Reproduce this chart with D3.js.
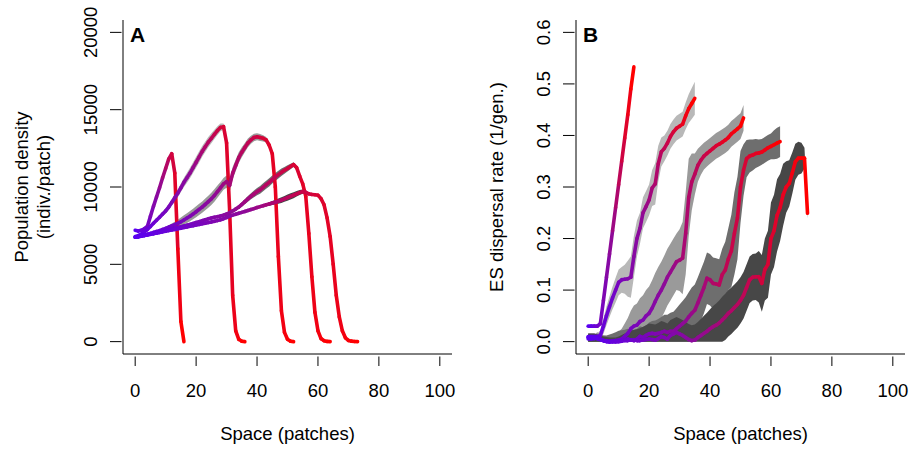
<!DOCTYPE html>
<html>
<head>
<meta charset="utf-8">
<script src="https://cdn.jsdelivr.net/npm/d3@7"></script>
<style>
  body { margin: 0; background: #fff; }
  svg { display: block; font-family: "Liberation Sans", Arial, Helvetica, sans-serif; }
</style>
</head>
<body>
<div id="chart"></div>
<script>
// ---- data: one value per patch, starting at patch 0 ----
// panel A: population density (indiv./patch)
const densA1 = [7200, 7150, 7200, 7300, 7450, 8100, 8750, 9350, 9950, 10600, 11200, 11800, 12150, 10900, 6000, 1300, 0];
const densA2 = [6800, 6850, 6950, 7100, 7250, 7450, 7650, 7850, 8050, 8250, 8450, 8700, 9000, 9300, 9600, 9950, 10300, 10600, 10900, 11250, 11600, 11950, 12300, 12600, 12900, 13150, 13400, 13650, 13850, 13900, 12850, 8500, 3000, 700, 150, 30, 0];
const densA3 = [6750, 6800, 6850, 6900, 6950, 7000, 7060, 7120, 7180, 7250, 7320, 7400, 7480, 7560, 7650, 7750, 7870, 7990, 8110, 8250, 8400, 8550, 8700, 8880, 9050, 9230, 9450, 9700, 9950, 10200, 10350, 10100, 10900, 11400, 11900, 12250, 12550, 12850, 13050, 13200, 13250, 13200, 13150, 13050, 12700, 12150, 10000, 5500, 2000, 600, 150, 30, 0];
const densA4 = [6750, 6790, 6830, 6870, 6910, 6950, 6990, 7030, 7080, 7130, 7180, 7230, 7280, 7330, 7380, 7430, 7480, 7530, 7580, 7640, 7700, 7760, 7820, 7880, 7940, 7990, 8040, 8080, 8120, 8180, 8250, 8350, 8450, 8570, 8700, 8870, 9050, 9230, 9400, 9550, 9700, 9820, 9980, 10150, 10300, 10480, 10650, 10800, 10950, 11080, 11200, 11330, 11450, 11250, 10700, 10200, 9400, 7000, 4200, 1900, 700, 200, 60, 15, 0];
const densA5 = [6750, 6780, 6820, 6860, 6900, 6940, 6980, 7020, 7060, 7100, 7140, 7180, 7220, 7260, 7300, 7340, 7380, 7420, 7460, 7500, 7540, 7580, 7620, 7660, 7700, 7740, 7780, 7830, 7880, 7950, 8030, 8110, 8180, 8240, 8300, 8360, 8420, 8480, 8540, 8600, 8670, 8730, 8790, 8850, 8900, 8960, 9020, 9080, 9150, 9230, 9310, 9390, 9470, 9560, 9640, 9700, 9660, 9560, 9520, 9500, 9470, 9250, 8850, 8000, 6800, 5000, 3000, 1600, 700, 250, 80, 30, 10, 0];
// half-width of the grey envelope around each density curve
const sprA2 = [0, 0, 0, 0, 0, 50, 80, 100, 120, 150, 180, 200, 220, 240, 260, 280, 300, 320, 340, 350, 360, 360, 350, 340, 330, 320, 300, 280, 250, 200, 150, 100, 50, 0, 0, 0, 0];
const sprA3 = [0, 0, 0, 0, 0, 0, 0, 0, 50, 80, 100, 130, 160, 200, 240, 280, 300, 320, 330, 340, 350, 360, 370, 380, 390, 400, 400, 390, 380, 380, 400, 420, 400, 380, 350, 320, 300, 280, 260, 240, 230, 220, 200, 180, 150, 100, 60, 30, 0, 0, 0, 0, 0];
const sprA4 = [0, 0, 0, 0, 0, 0, 0, 0, 0, 0, 0, 0, 0, 0, 0, 0, 0, 0, 0, 0, 0, 0, 0, 0, 0, 0, 0, 0, 0, 0, 40, 60, 80, 100, 120, 140, 160, 180, 200, 220, 240, 250, 260, 260, 260, 260, 260, 250, 240, 220, 200, 180, 150, 120, 90, 60, 30, 0, 0, 0, 0, 0, 0, 0, 0];
const sprA5 = [0, 0, 0, 0, 0, 0, 0, 0, 0, 0, 0, 0, 0, 0, 0, 0, 0, 0, 0, 0, 0, 0, 0, 0, 0, 0, 0, 0, 0, 0, 0, 0, 0, 0, 0, 0, 0, 0, 0, 0, 30, 50, 70, 90, 110, 130, 150, 170, 180, 190, 200, 200, 190, 180, 160, 140, 120, 90, 60, 30, 0, 0, 0, 0, 0, 0, 0, 0, 0, 0, 0, 0, 0, 0];

// panel B: ES dispersal rate (1/gen.)
const dispB1 = [0.03, 0.03, 0.03, 0.03, 0.035, 0.08, 0.125, 0.17, 0.215, 0.26, 0.305, 0.35, 0.395, 0.44, 0.49, 0.533];
const dispB2 = [0.010, 0.010, 0.010, 0.010, 0.012, 0.030, 0.050, 0.068, 0.085, 0.100, 0.115, 0.120, 0.121, 0.122, 0.125, 0.165, 0.200, 0.220, 0.250, 0.262, 0.275, 0.298, 0.306, 0.345, 0.368, 0.375, 0.385, 0.398, 0.407, 0.414, 0.418, 0.422, 0.438, 0.452, 0.462, 0.472];
const dispB3 = [0.005, 0.005, 0.006, 0.008, 0.005, 0.002, 0.001, 0.000, 0.001, 0.002, 0.003, 0.005, 0.010, 0.016, 0.025, 0.030, 0.032, 0.039, 0.042, 0.050, 0.055, 0.065, 0.078, 0.090, 0.100, 0.112, 0.125, 0.135, 0.145, 0.155, 0.158, 0.162, 0.210, 0.280, 0.310, 0.325, 0.342, 0.352, 0.360, 0.365, 0.370, 0.375, 0.380, 0.383, 0.387, 0.391, 0.396, 0.403, 0.408, 0.413, 0.418, 0.434];
const dispB4 = [0.008, 0.008, 0.008, 0.006, 0.004, 0.002, 0.000, 0.000, 0.000, 0.000, 0.001, 0.002, 0.003, 0.005, 0.003, 0.002, 0.005, 0.010, 0.008, 0.012, 0.015, 0.016, 0.015, 0.016, 0.018, 0.020, 0.018, 0.020, 0.020, 0.025, 0.030, 0.035, 0.040, 0.048, 0.055, 0.061, 0.075, 0.090, 0.105, 0.123, 0.120, 0.113, 0.112, 0.110, 0.130, 0.139, 0.160, 0.176, 0.210, 0.240, 0.300, 0.333, 0.355, 0.360, 0.362, 0.365, 0.366, 0.368, 0.372, 0.376, 0.379, 0.382, 0.385, 0.388];
const dispB5 = [0.008, 0.008, 0.008, 0.006, 0.004, 0.002, 0.001, 0.000, 0.000, 0.000, 0.000, 0.001, 0.002, 0.002, 0.003, 0.003, 0.002, 0.002, 0.003, 0.004, 0.005, 0.004, 0.003, 0.006, 0.010, 0.008, 0.005, 0.012, 0.015, 0.018, 0.015, 0.012, 0.008, 0.004, 0.002, 0.003, 0.008, 0.012, 0.016, 0.020, 0.025, 0.029, 0.032, 0.036, 0.042, 0.048, 0.055, 0.060, 0.066, 0.072, 0.080, 0.090, 0.105, 0.120, 0.125, 0.126, 0.126, 0.113, 0.140, 0.150, 0.200, 0.215, 0.245, 0.260, 0.285, 0.300, 0.307, 0.327, 0.349, 0.356, 0.356, 0.356, 0.249];
const sprB2 = [0.004, 0.004, 0.004, 0.006, 0.010, 0.015, 0.018, 0.020, 0.022, 0.024, 0.025, 0.025, 0.028, 0.035, 0.040, 0.040, 0.035, 0.030, 0.030, 0.030, 0.030, 0.035, 0.040, 0.035, 0.028, 0.025, 0.024, 0.024, 0.024, 0.024, 0.024, 0.024, 0.026, 0.028, 0.030, 0.032];
const sprB3 = [0.006, 0.006, 0.008, 0.010, 0.010, 0.010, 0.010, 0.010, 0.012, 0.014, 0.016, 0.020, 0.025, 0.030, 0.035, 0.040, 0.042, 0.045, 0.048, 0.050, 0.052, 0.054, 0.055, 0.055, 0.055, 0.055, 0.055, 0.055, 0.055, 0.055, 0.060, 0.070, 0.080, 0.075, 0.055, 0.040, 0.032, 0.028, 0.026, 0.025, 0.025, 0.025, 0.025, 0.025, 0.025, 0.025, 0.025, 0.025, 0.025, 0.025, 0.025, 0.025];
const sprB4 = [0.008, 0.008, 0.008, 0.008, 0.008, 0.010, 0.012, 0.014, 0.016, 0.018, 0.020, 0.020, 0.020, 0.020, 0.020, 0.020, 0.020, 0.020, 0.020, 0.020, 0.022, 0.024, 0.026, 0.028, 0.030, 0.032, 0.034, 0.036, 0.038, 0.040, 0.042, 0.044, 0.046, 0.048, 0.050, 0.050, 0.050, 0.050, 0.050, 0.050, 0.050, 0.050, 0.050, 0.050, 0.050, 0.055, 0.060, 0.070, 0.080, 0.080, 0.070, 0.050, 0.036, 0.032, 0.030, 0.028, 0.026, 0.025, 0.025, 0.025, 0.025, 0.028, 0.030, 0.030];
const sprB5 = [0.008, 0.008, 0.008, 0.008, 0.008, 0.008, 0.008, 0.008, 0.008, 0.008, 0.010, 0.012, 0.014, 0.016, 0.018, 0.020, 0.022, 0.024, 0.026, 0.028, 0.030, 0.030, 0.030, 0.030, 0.030, 0.030, 0.030, 0.030, 0.030, 0.030, 0.030, 0.030, 0.030, 0.030, 0.030, 0.030, 0.030, 0.032, 0.034, 0.036, 0.038, 0.040, 0.042, 0.044, 0.045, 0.045, 0.045, 0.045, 0.045, 0.045, 0.045, 0.045, 0.045, 0.045, 0.045, 0.045, 0.050, 0.055, 0.060, 0.065, 0.070, 0.070, 0.070, 0.065, 0.060, 0.050, 0.045, 0.040, 0.035, 0.032, 0.030, 0.020, 0.010];

const bandGreys = ['#b8b8b8', '#9a9a9a', '#6e6e6e', '#474747'];
const xTicks = [0, 20, 40, 60, 80, 100];
const yTicksA = [0, 5000, 10000, 15000, 20000];
const yTicksB = [0, 0.1, 0.2, 0.3, 0.4, 0.5, 0.6];

const width = 909, height = 450;
const svg = d3.select('#chart').append('svg')
  .attr('width', width)
  .attr('height', height);

// blue-violet at the rear of the range, red at the front
const ramp = d3.scaleLinear()
  .domain([0, 0.5, 1])
  .range(['#5a00f0', '#8e0a98', '#ff0000']);

const pw = 329, ph = 334;
const fs = 18.5;

function drawPanel(cfg) {
  const g = svg.append('g').attr('transform', `translate(${cfg.left},20)`);

  const x = d3.scaleLinear().domain([-4, 104]).range([0, pw]);
  const y = d3.scaleLinear().domain(cfg.yDomain).range([ph, 0]);

  // envelopes first
  cfg.bands.forEach((b, k) => {
    const area = d3.area()
      .x((d, i) => x(i))
      .y0((d, i) => y(Math.max(0, d - (b.spr[i] || 0))))
      .y1((d, i) => y(d + (b.spr[i] || 0)));
    g.append('path')
      .datum(b.vals)
      .attr('fill', bandGreys[k])
      .attr('stroke', 'none')
      .attr('d', area);
  });

  // lines, one segment at a time so colour can change along the front
  cfg.lines.forEach(vals => {
    const segs = d3.pairs(vals.map((v, i) => [i, v]));
    g.append('g').selectAll('line')
      .data(segs)
      .join('line')
      .attr('x1', d => x(d[0][0])).attr('y1', d => y(d[0][1]))
      .attr('x2', d => x(d[1][0])).attr('y2', d => y(d[1][1]))
      .attr('stroke', (d, i) => ramp(segs.length > 1 ? i / (segs.length - 1) : 1))
      .attr('stroke-width', 3.6)
      .attr('stroke-linecap', 'round');
  });

  // L-shaped frame
  g.append('path')
    .attr('d', `M0,0V${ph}H${pw}`)
    .attr('fill', 'none')
    .attr('stroke', '#000')
    .attr('stroke-width', 1);

  // x ticks
  const xt = g.append('g');
  xt.selectAll('line').data(xTicks).join('line')
    .attr('x1', d => x(d)).attr('x2', d => x(d))
    .attr('y1', ph + 2.5).attr('y2', ph + 12)
    .attr('stroke', '#000');
  xt.selectAll('text').data(xTicks).join('text')
    .attr('x', d => x(d)).attr('y', ph + 42.5)
    .attr('text-anchor', 'middle')
    .attr('font-size', fs)
    .text(d => d);

  // y ticks (labels parallel to the axis)
  const yt = g.append('g');
  yt.selectAll('line').data(cfg.yTicks).join('line')
    .attr('x1', -1.5).attr('x2', -13)
    .attr('y1', d => y(d)).attr('y2', d => y(d))
    .attr('stroke', '#000');
  yt.selectAll('text').data(cfg.yTicks).join('text')
    .attr('transform', d => `translate(-26.5,${y(d)}) rotate(-90)`)
    .attr('text-anchor', 'middle')
    .attr('font-size', fs)
    .text(cfg.yFormat);

  // titles
  g.append('text')
    .attr('x', pw / 2).attr('y', 420)
    .attr('text-anchor', 'middle')
    .attr('font-size', fs)
    .text('Space (patches)');

  cfg.yTitle.forEach((t, i) => {
    const off = cfg.yTitle.length === 2 ? [-95.5, -73.5][i] : -73.5;
    g.append('text')
      .attr('transform', `translate(${off},${ph / 2}) rotate(-90)`)
      .attr('text-anchor', 'middle')
      .attr('font-size', fs)
      .text(t);
  });

  g.append('text')
    .attr('x', 7).attr('y', 22)
    .attr('font-size', 21)
    .attr('font-weight', 'bold')
    .text(cfg.tag);
}

drawPanel({
  left: 123,
  tag: 'A',
  yDomain: [-800, 20800],
  yTicks: yTicksA,
  yFormat: d => d,
  yTitle: ['Population density', '(indiv./patch)'],
  bands: [
    { vals: densA2, spr: sprA2 },
    { vals: densA3, spr: sprA3 },
    { vals: densA4, spr: sprA4 },
    { vals: densA5, spr: sprA5 }
  ],
  lines: [densA1, densA2, densA3, densA4, densA5]
});

drawPanel({
  left: 576,
  tag: 'B',
  yDomain: [-0.024, 0.624],
  yTicks: yTicksB,
  yFormat: d3.format('.1f'),
  yTitle: ['ES dispersal rate (1/gen.)'],
  bands: [
    { vals: dispB2, spr: sprB2 },
    { vals: dispB3, spr: sprB3 },
    { vals: dispB4, spr: sprB4 },
    { vals: dispB5, spr: sprB5 }
  ],
  lines: [dispB1, dispB2, dispB3, dispB4, dispB5]
});
</script>
</body>
</html>
